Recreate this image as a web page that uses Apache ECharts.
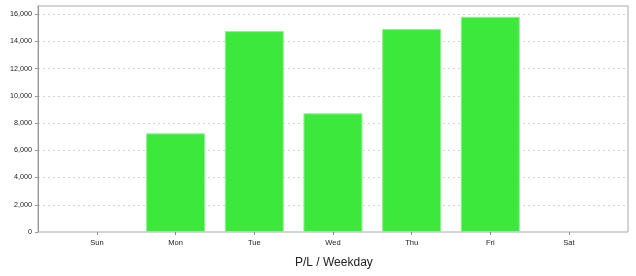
<!DOCTYPE html>
<html>
<head>
<meta charset="utf-8">
<script src="https://cdn.jsdelivr.net/npm/echarts@6/dist/echarts.min.js"></script>
<style>html,body{margin:0;padding:0;background:#fff}#c{width:636px;height:276px}</style>
</head>
<body>
<div id="c"></div>
<script>
var categories = ['Sun', 'Mon', 'Tue', 'Wed', 'Thu', 'Fri', 'Sat'];
var values = [0, 7240, 14750, 8710, 14900, 15800, 0];
var chartTitle = 'P/L / Weekday';

var yMax = 16590;
var chart = echarts.init(document.getElementById('c'));
var font = 'Liberation Sans, Arial, sans-serif';
chart.setOption({
  animation: false,
  title: {
    text: chartTitle, left: 290, top: 252,
    textStyle: { fontFamily: font, fontSize: 12, fontWeight: 'normal', color: '#222' }
  },
  grid: [
    { left: 38, right: 8, top: 6, bottom: 44, show: true, borderColor: '#aaa', borderWidth: 1, backgroundColor: 'transparent' },
    { left: 57.6, right: 27.7, top: 6, bottom: 44 }
  ],
  xAxis: [
    { gridIndex: 0, type: 'category', data: categories, show: false },
    { gridIndex: 1, type: 'category', data: categories,
      axisLine: { show: false },
      axisTick: { show: true, alignWithLabel: true, length: 3, lineStyle: { color: '#888' } },
      axisLabel: { fontFamily: font, fontSize: 7.5, color: '#222', margin: 7 } }
  ],
  yAxis: [
    { gridIndex: 0, type: 'value', min: 0, max: yMax, interval: 2000,
      axisLine: { show: true, lineStyle: { color: '#999' } },
      axisTick: { show: true, length: 3, lineStyle: { color: '#999' } },
      axisLabel: { fontFamily: font, fontSize: 7.2, color: '#222', margin: 6, showMaxLabel: false,
        formatter: function (v) { return v.toLocaleString('en-US'); } },
      splitLine: { show: true, lineStyle: { color: '#d4d4d4', type: [2, 3] } } },
    { gridIndex: 1, type: 'value', min: 0, max: yMax, show: false, splitLine: { show: false } }
  ],
  series: [{
    type: 'bar', xAxisIndex: 1, yAxisIndex: 1,
    data: values.map(function (v) { return v === 0 ? { value: v, itemStyle: { borderWidth: 0 } } : v; }),
    barCategoryGap: '25%',
    itemStyle: { color: '#3de83d', borderColor: '#8cf28c', borderWidth: 1 }
  }]
});
</script>
</body>
</html>
